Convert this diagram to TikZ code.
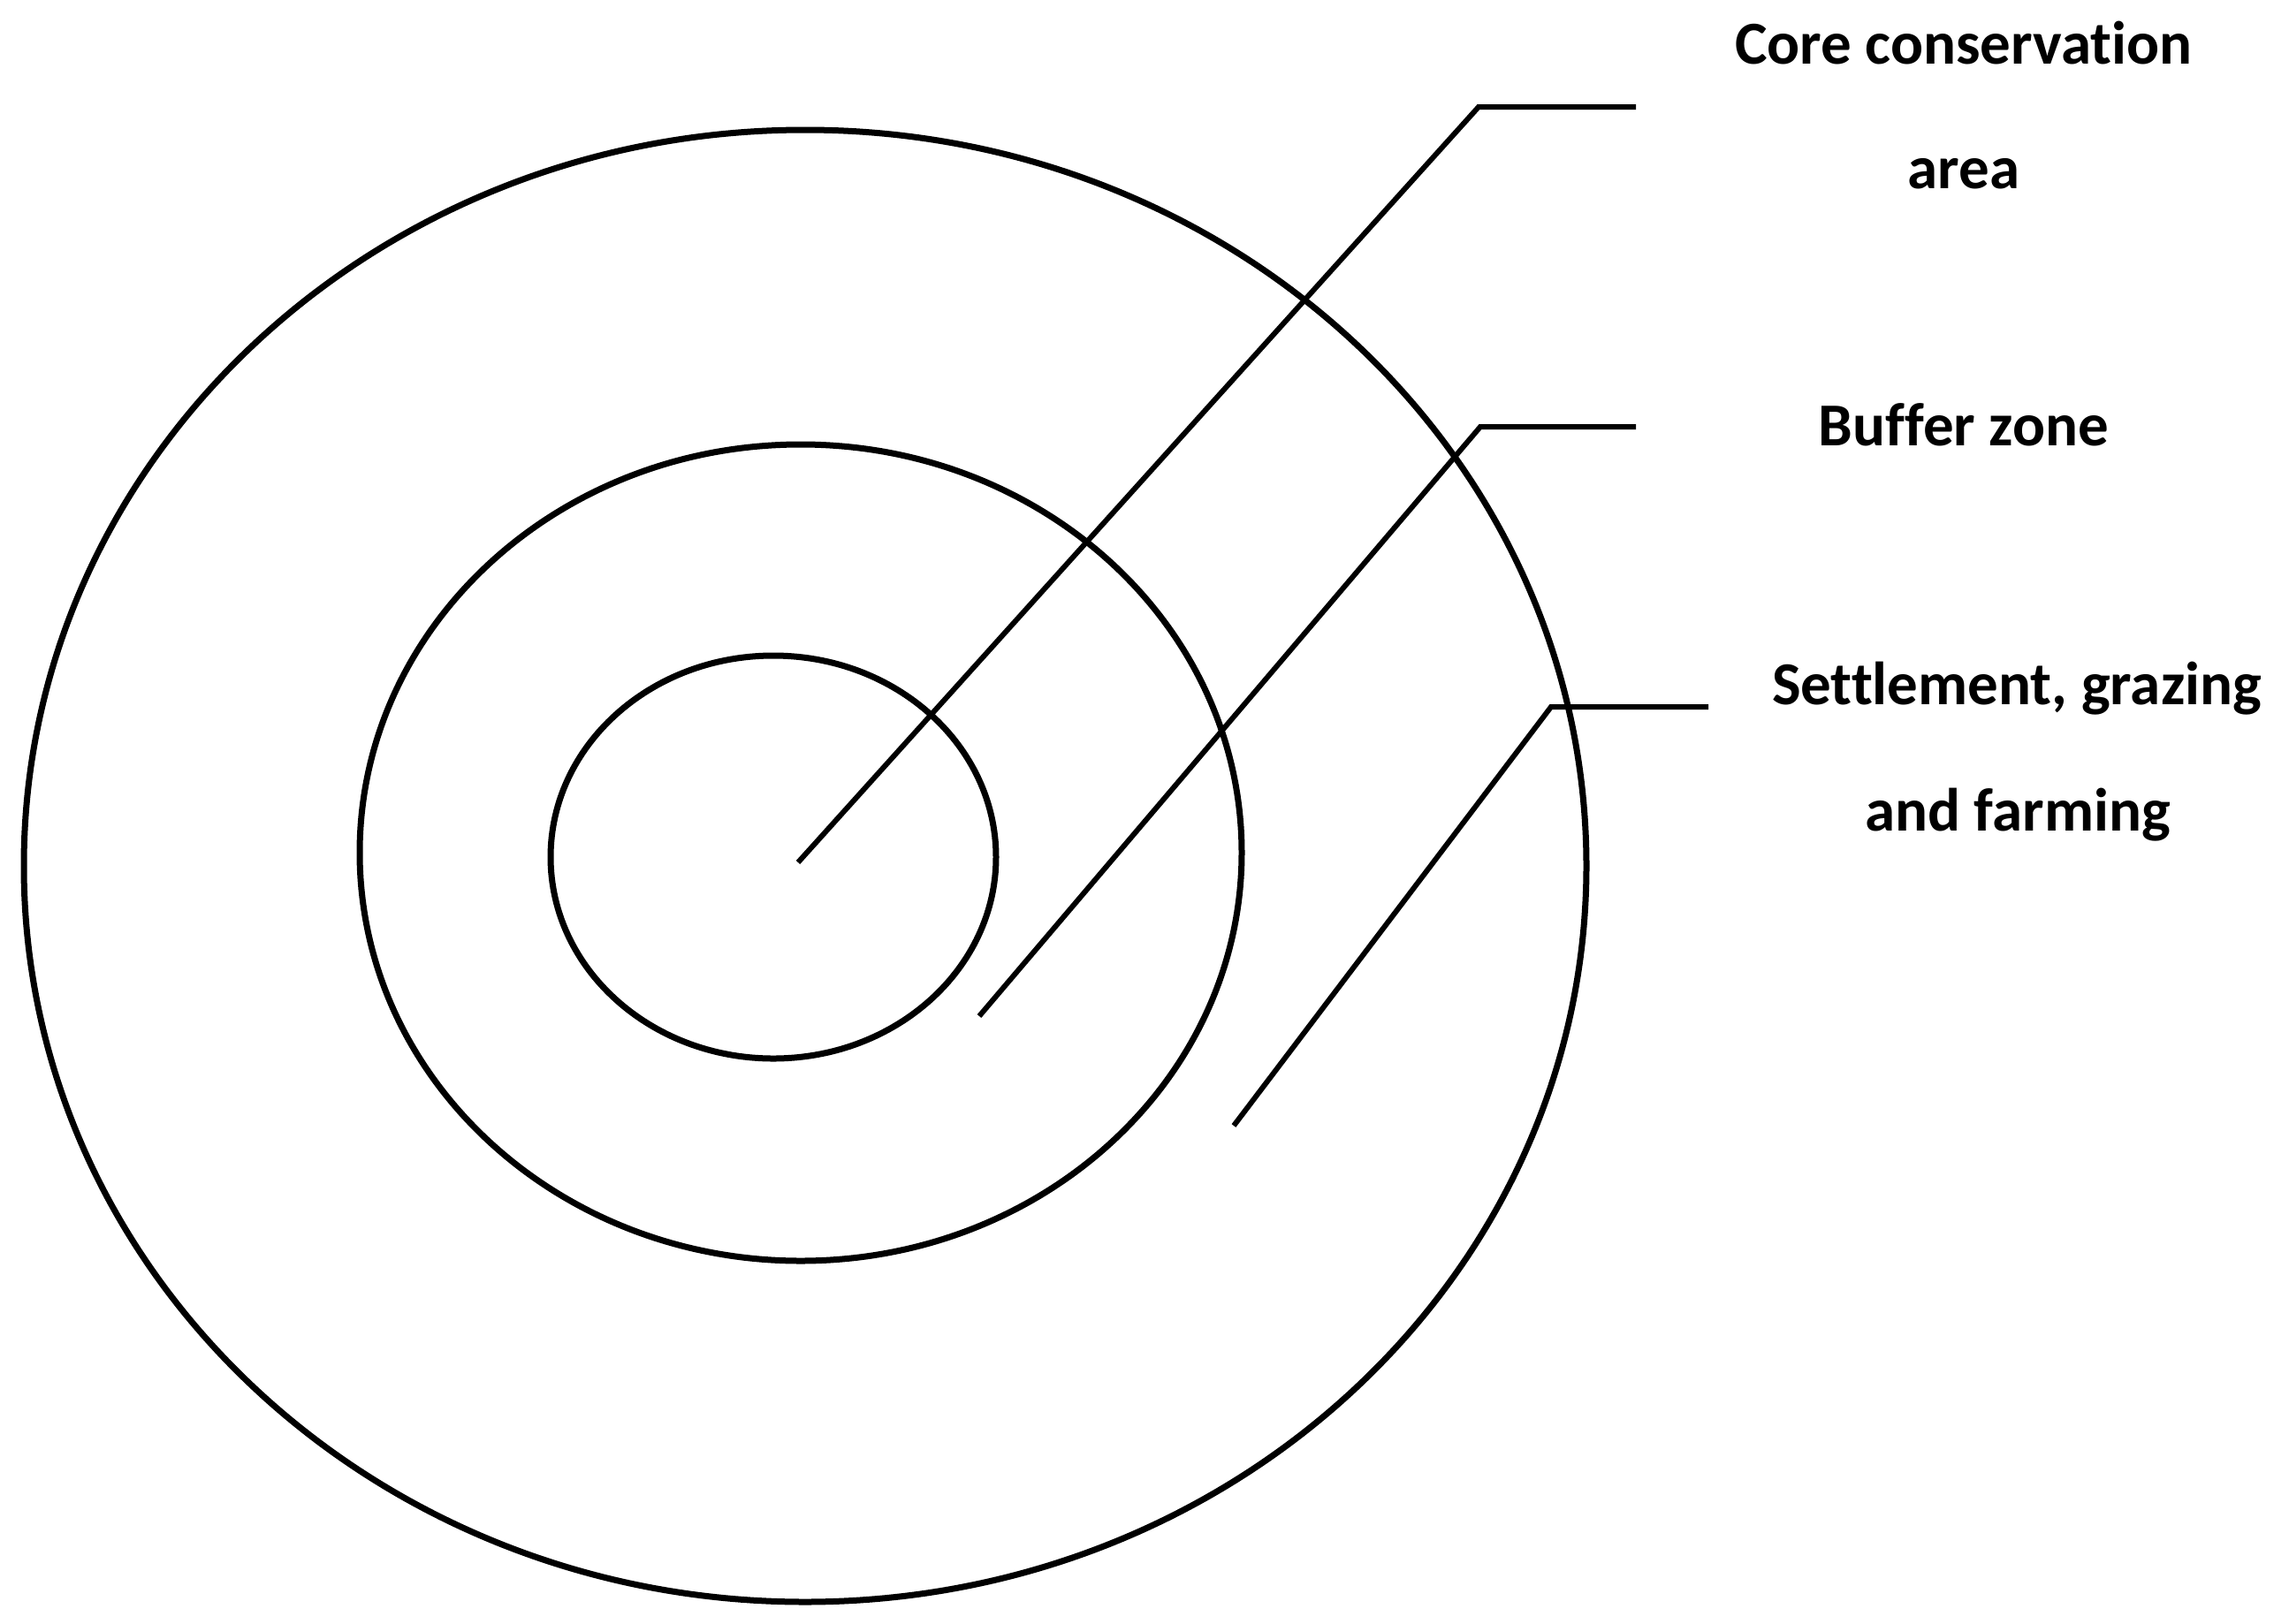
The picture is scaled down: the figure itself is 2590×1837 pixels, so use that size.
\documentclass[tikz,border=0pt]{standalone}
\usepackage{fontspec}
\setmainfont[Ligatures=NoCommon]{Carlito}
\begin{document}
\begin{tikzpicture}[x=1pt,y=-1pt,
  ring/.style={line width=7pt, black},
  leader/.style={line width=6pt, black, line join=miter},
  lbl/.style={inner sep=0pt, anchor=base, font=\fontsize{69}{69}\selectfont\bfseries}]
\useasboundingbox (0,0) rectangle (2590,1837);
% rings
\coordinate (co) at (911,980);
\coordinate (cm) at (906,965);
\coordinate (ci) at (875,970);
\draw[ring] (co) ellipse [x radius=884, y radius=833];
\draw[ring] (cm) ellipse [x radius=499, y radius=462];
\draw[ring] (ci) ellipse [x radius=252, y radius=228];
% labels
\node[lbl] (core1) at (2222,72) {Core conservation};
\node[lbl] (core2) at (2222,213) {area};
\node[lbl] (buf) at (2222,504) {Buffer zone};
\node[lbl] (set1) at (2282,797) {Settlement, grazing};
\node[lbl] (set2) at (2283,940) {and farming};
% leader points
\coordinate (a0) at (903,976);
\coordinate (a1) at (1673,121);
\coordinate (a2) at (1851,121);
\coordinate (b0) at (1108,1150);
\coordinate (b1) at (1675,483);
\coordinate (b2) at (1851,483);
\coordinate (s0) at (1396,1274);
\coordinate (s1) at (1755,800);
\coordinate (s2) at (1933,800);
\draw[leader] (a0) -- (a1) -- (a2);
\draw[leader] (b0) -- (b1) -- (b2);
\draw[leader] (s0) -- (s1) -- (s2);
\end{tikzpicture}
\end{document}
